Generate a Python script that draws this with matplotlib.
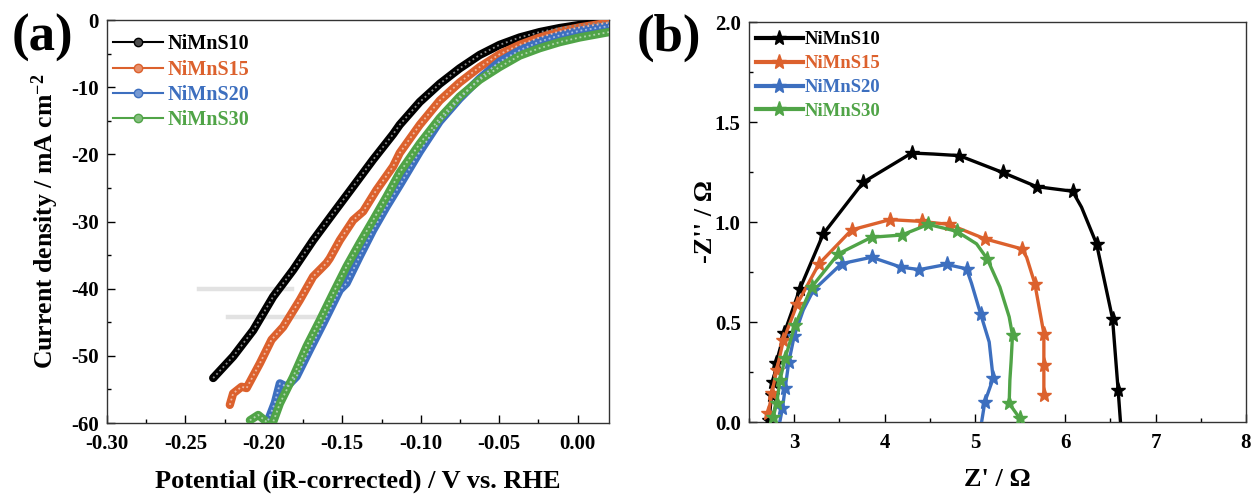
import numpy as np
import matplotlib.pyplot as plt
from matplotlib.lines import Line2D
from matplotlib.ticker import MultipleLocator, FormatStrFormatter

plt.rcParams['font.family'] = ['Liberation Serif', 'DejaVu Serif']
plt.rcParams['font.weight'] = 'bold'
plt.rcParams['axes.unicode_minus'] = False
plt.rcParams['mathtext.fontset'] = 'custom'
plt.rcParams['mathtext.rm'] = 'Liberation Serif:bold'
plt.rcParams['mathtext.it'] = 'Liberation Serif:bold'
plt.rcParams['mathtext.bf'] = 'Liberation Serif:bold'

names = ['NiMnS10', 'NiMnS15', 'NiMnS20', 'NiMnS30']
colors = ['#000000', '#DC612D', '#3D6FBF', '#50A447']

# (a) LSV, potential (V vs RHE) / current density (mA cm-2)
v10 = [-0.2323, -0.2196, -0.2068, -0.1941, -0.1813, -0.1686, -0.1559, -0.1431, -0.1304, -0.1176, -0.1134,
       -0.1006, -0.0879, -0.0752, -0.0624, -0.0497, -0.0369, -0.0242, -0.0115, 0.0013, 0.0200]
j10 = [-53.3, -50.1, -46.2, -41.2, -37.2, -32.8, -28.8, -24.8, -20.8, -17.0, -15.6,
       -12.2, -9.5, -7.2, -5.2, -3.7, -2.6, -1.8, -1.2, -0.74, -0.3]
v15 = [-0.2217, -0.2196, -0.2142, -0.2110, -0.2025, -0.1951, -0.1877, -0.1771, -0.1686, -0.1601, -0.1580,
       -0.1516, -0.1431, -0.1367, -0.1282, -0.1176, -0.1134, -0.1006, -0.0879, -0.0752, -0.0624, -0.0497,
       -0.0369, -0.0242, -0.0115, 0.0013, 0.0200]
j15 = [-57.3, -55.6, -54.6, -54.8, -51.1, -47.6, -45.7, -41.7, -38.2, -36.2, -35.5,
       -32.8, -29.8, -28.5, -25.3, -21.8, -19.8, -15.6, -12.0, -9.3, -7.0, -5.1,
       -3.7, -2.6, -1.7, -1.1, -0.4]
v20 = [-0.1973, -0.1930, -0.1898, -0.1855, -0.1792, -0.1707, -0.1622, -0.1516, -0.1473, -0.1389, -0.1304,
       -0.1218, -0.1134, -0.1006, -0.0879, -0.0752, -0.0624, -0.0497, -0.0369, -0.0242, -0.0115, 0.0013, 0.0200]
j20 = [-59.6, -57.0, -54.1, -54.6, -53.1, -49.1, -45.2, -40.2, -39.2, -35.2, -31.3,
       -27.8, -24.6, -19.6, -15.1, -11.7, -8.7, -6.2, -4.5, -3.2, -2.3, -1.6, -0.9]
v30 = [-0.2089, -0.2036, -0.1994, -0.1951, -0.1898, -0.1813, -0.1728, -0.1643, -0.1559, -0.1473, -0.1389,
       -0.1304, -0.1218, -0.1134, -0.1006, -0.0879, -0.0752, -0.0624, -0.0497, -0.0369, -0.0242, -0.0115,
       0.0013, 0.0200]
j30 = [-59.6, -58.8, -59.6, -60.5, -57.1, -53.1, -48.6, -44.7, -40.7, -36.7, -33.2,
       -29.8, -26.3, -22.7, -18.4, -14.6, -11.4, -8.9, -7.0, -5.3, -4.2, -3.3,
       -2.6, -1.8]

# grey guide bars
guide_y = [-40.0, -44.2]
guide_x0 = [-0.2415, -0.2230]
guide_x1 = [-0.1818, -0.1665]

# (b) Nyquist, Z' / -Z''
zr10 = [2.72, 2.75, 2.77, 2.80, 2.89, 3.064, 3.322, 3.764, 4.30, 4.54, 4.827, 5.306, 5.682, 6.08, 6.18, 6.346, 6.523, 6.585, 6.611]
zi10 = [0.01, 0.135, 0.20, 0.294, 0.445, 0.667, 0.941, 1.199, 1.345, 1.34, 1.332, 1.248, 1.177, 1.154, 1.074, 0.891, 0.517, 0.16, 0.0]
star10 = [0, 1, 2, 3, 4, 5, 6, 7, 8, 10, 11, 12, 13, 15, 16, 17]
zr15 = [2.714, 2.751, 2.806, 2.88, 3.035, 3.274, 3.636, 4.06, 4.41, 4.716, 5.11, 5.516, 5.572, 5.663, 5.763, 5.763, 5.763]
zi15 = [0.043, 0.143, 0.259, 0.409, 0.592, 0.791, 0.961, 1.012, 1.003, 0.988, 0.916, 0.866, 0.824, 0.692, 0.442, 0.284, 0.135]
star15 = [0, 1, 2, 3, 4, 5, 6, 7, 8, 9, 10, 11, 13, 14, 15, 16]
zr20 = [2.84, 2.87, 2.90, 2.94, 3.0, 3.1, 3.211, 3.525, 3.857, 4.177, 4.384, 4.686, 4.907, 4.962, 5.062, 5.158, 5.202, 5.11, 5.074]
zi20 = [0.0, 0.07, 0.17, 0.30, 0.43, 0.56, 0.658, 0.792, 0.824, 0.775, 0.762, 0.788, 0.766, 0.694, 0.542, 0.40, 0.218, 0.101, 0.0]
star20 = [1, 2, 3, 4, 6, 7, 8, 9, 10, 11, 12, 14, 16, 17]
zr30 = [2.769, 2.806, 2.843, 2.898, 3.009, 3.193, 3.488, 3.857, 4.19, 4.484, 4.797, 5.018, 5.136, 5.276, 5.379, 5.416, 5.40, 5.387, 5.379, 5.497]
zi30 = [0.027, 0.095, 0.21, 0.318, 0.484, 0.675, 0.841, 0.924, 0.935, 0.988, 0.954, 0.891, 0.816, 0.675, 0.526, 0.434, 0.30, 0.21, 0.093, 0.018]
star30 = [0, 1, 2, 3, 4, 5, 6, 7, 8, 9, 10, 12, 15, 18, 19]

fig = plt.figure(figsize=(12.53, 4.94), dpi=100)
ax1 = fig.add_axes([0.0854, 0.1437, 0.4006, 0.8158])
ax2 = fig.add_axes([0.5978, 0.1457, 0.3966, 0.8097])


def lighten(c, f):
    rgb = np.array(plt.matplotlib.colors.to_rgb(c))
    return tuple(rgb + (1 - rgb) * f)


for ax in (ax1, ax2):
    ax.tick_params(which='both', direction='in', top=False, right=False, labelsize=15)
    ax.tick_params(axis='x', which='both', pad=8)
    ax.tick_params(axis='y', which='both', pad=6)
    ax.tick_params(which='major', length=6, width=1)
    ax.tick_params(which='minor', length=3, width=1)
    for s in ax.spines.values():
        s.set_linewidth(1.0)
        s.set_color('#333333')

# ---- (a)
for y, x0, x1 in zip(guide_y, guide_x0, guide_x1):
    ax1.plot([x0, x1], [y, y], color='#e2e2e2', lw=3.2, zorder=1)

lsv = [(v10, j10), (v15, j15), (v20, j20), (v30, j30)]
for (v, j), c in zip(lsv, colors):
    # thick band + light dotted core to mimic the dense open circles
    ax1.plot(v, j, color=c, lw=6, solid_capstyle='round', solid_joinstyle='round', zorder=3)
    ax1.plot(v, j, color=lighten(c, 0.55), lw=1.3, ls=(0, (1, 1.6)), zorder=4)

ax1.set_xlim(-0.30, 0.02)
ax1.set_ylim(-60, 0)
ax1.xaxis.set_major_locator(MultipleLocator(0.05))
ax1.xaxis.set_minor_locator(MultipleLocator(0.025))
ax1.xaxis.set_major_formatter(FormatStrFormatter('%.2f'))
ax1.yaxis.set_major_locator(MultipleLocator(10))
ax1.yaxis.set_minor_locator(MultipleLocator(5))
ax1.set_xlabel('Potential (iR-corrected) / V vs. RHE', fontsize=19, fontweight='bold')
ax1.set_ylabel('Current density / mA cm$^{-2}$', fontsize=18.5, fontweight='bold')
ax1.xaxis.set_label_coords(0.5, -0.115)
ax1.yaxis.set_label_coords(-0.092, 0.5)

h1 = [Line2D([], [], color=c, lw=1.5, marker='o', ms=6, mfc=lighten(c, 0.3), mec=c) for c in colors]
ax1.legend(h1, names, loc='upper left', bbox_to_anchor=(0.012, 0.965), frameon=False,
           prop={'size': 14.5, 'weight': 'bold'}, handlelength=2.5, handletextpad=0.2,
           labelspacing=0.27, borderpad=0, borderaxespad=0, labelcolor=colors)

# ---- (b)
eis = [(zr10, zi10, star10), (zr15, zi15, star15), (zr20, zi20, star20), (zr30, zi30, star30)]
for (x, y, m), c in zip(eis, colors):
    ax2.plot(x, y, color=c, lw=2.4, marker='*', ms=11, markevery=m, mfc=c, mec=c, zorder=3)

ax2.set_xlim(2.5, 8)
ax2.set_ylim(0, 2.0)
ax2.xaxis.set_major_locator(MultipleLocator(1))
ax2.xaxis.set_minor_locator(MultipleLocator(0.5))
ax2.yaxis.set_major_locator(MultipleLocator(0.5))
ax2.yaxis.set_minor_locator(MultipleLocator(0.25))
ax2.yaxis.set_major_formatter(FormatStrFormatter('%.1f'))
ax2.set_xlabel("Z' / \u03a9", fontsize=19, fontweight='bold')
ax2.set_ylabel("-Z'' / \u03a9", fontsize=19, fontweight='bold')
ax2.xaxis.set_label_coords(0.5, -0.115)
ax2.yaxis.set_label_coords(-0.065, 0.5)

h2 = [Line2D([], [], color=c, lw=3, marker='*', ms=11, mfc=c, mec=c) for c in colors]
ax2.legend(h2, names, loc='upper left', bbox_to_anchor=(0.014, 0.977), frameon=False,
           prop={'size': 13.5, 'weight': 'bold'}, handlelength=2.5, handletextpad=0.1,
           labelspacing=0.36, borderpad=0, borderaxespad=0, labelcolor=colors)

fig.text(0.0335, 0.923, '(a)', fontsize=38, fontweight='bold', ha='center', va='center')
fig.text(0.534, 0.923, '(b)', fontsize=38, fontweight='bold', ha='center', va='center')

fig.savefig('out.png', dpi=100)
